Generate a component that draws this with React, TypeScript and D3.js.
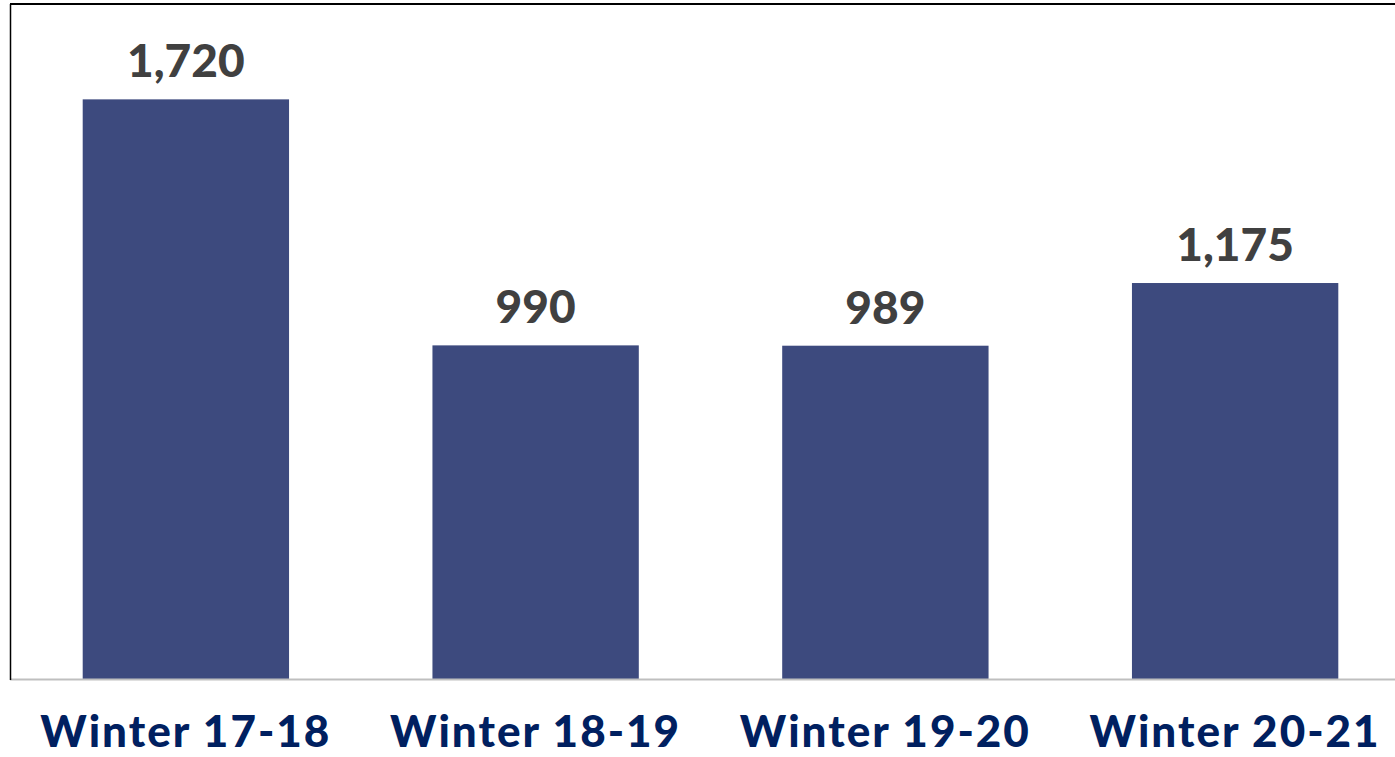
import React from "react";
import * as d3 from "d3";

const categories = ["Winter 17-18", "Winter 18-19", "Winter 19-20", "Winter 20-21"];
const values = [1720, 990, 989, 1175];

const W = 1395;
const H = 757;

export default function App() {
  const x = d3.scaleBand<string>().domain(categories).range([11, 1410]).paddingInner(0.41).paddingOuter(0.205);
  const y = d3.scaleLinear().domain([0, 2000]).range([679, 5]);
  const fmt = d3.format(",");
  return (
    <svg width={W} height={H} style={{ position: "absolute", left: 0, top: 0, background: "#fff" }}>
      <rect x={0} y={0} width={W} height={H} fill="#fff" />
      {categories.map((c, i) => (
        <rect key={c} x={x(c)} y={y(values[i])} width={x.bandwidth()} height={y(0) - y(values[i])} fill="#3d4a7e" />
      ))}
      <line x1={10} x2={W} y1={679.5} y2={679.5} stroke="#bfbfbf" strokeWidth={2} />
      <line x1={10} x2={W} y1={4} y2={4} stroke="#000" strokeWidth={2} />
      <line x1={10.5} x2={10.5} y1={4} y2={680} stroke="#000" strokeWidth={1.5} />
      {categories.map((c, i) => (
        <text key={"v" + c} x={(x(c) ?? 0) + x.bandwidth() / 2} y={y(values[i]) - 22} textAnchor="middle"
          fontFamily="Lato" fontWeight={900} fontSize={46} fill="#404040">
          {fmt(values[i])}
        </text>
      ))}
      {categories.map((c) => (
        <text key={"c" + c} x={(x(c) ?? 0) + x.bandwidth() / 2} y={747} textAnchor="middle"
          fontFamily="Lato" fontWeight={900} fontSize={44} fill="#002060" letterSpacing={2}>
          {c}
        </text>
      ))}
    </svg>
  );
}
